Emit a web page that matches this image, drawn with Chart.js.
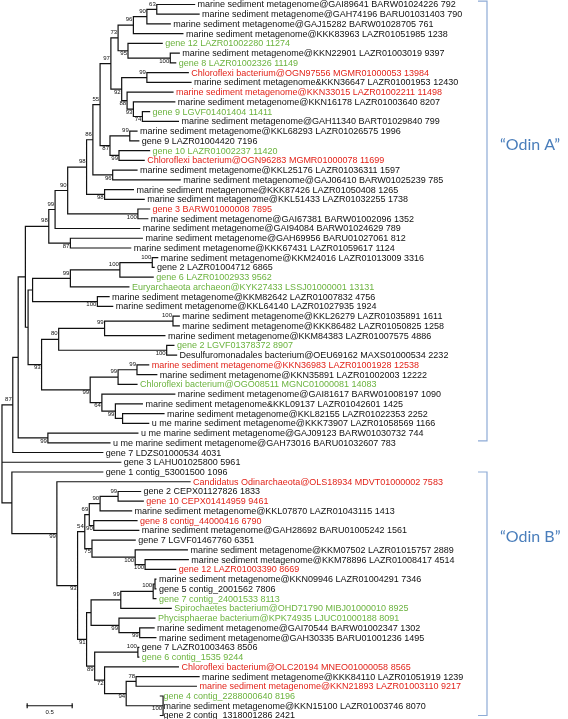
<!DOCTYPE html>
<html>
<head>
<meta charset="utf-8">
<script src="https://cdn.jsdelivr.net/npm/chart.js@4.4.1/dist/chart.umd.min.js"></script>
<style>
  html, body { margin: 0; padding: 0; background: #fff; }
  #wrap { position: relative; width: 568px; height: 719px; }
</style>
</head>
<body>
<div id="wrap"><canvas id="tree"></canvas></div>
<script>
// leaves, top to bottom
const leafLabels = [
  "marine sediment metagenome@GAI89641 BARW01024226 792",
  "marine sediment metagenome@GAH74196 BARU01031403 790",
  "marine sediment metagenome@GAJ15282 BARW01028705 761",
  "marine sediment metagenome@KKK83963 LAZR01051985 1238",
  "gene 12 LAZR01002280 11274",
  "marine sediment metagenome@KKN22901 LAZR01003019 9397",
  "gene 8 LAZR01002326 11149",
  "Chloroflexi bacterium@OGN97556 MGMR01000053 13984",
  "marine sediment metagenome&KKN36647 LAZR01001953 12430",
  "marine sediment metagenome@KKN33015 LAZR01002211 11498",
  "marine sediment metagenome@KKN16178 LAZR01003640 8207",
  "gene 9 LGVF01401404 11411",
  "marine sediment metagenome@GAH11340 BART01029840 799",
  "marine sediment metagenome@KKL68293 LAZR01026575 1996",
  "gene 9 LAZR01004420 7196",
  "gene 10 LAZR01002237 11420",
  "Chloroflexi bacterium@OGN96283 MGMR01000078 11699",
  "marine sediment metagenome@KKL25176 LAZR01036311 1597",
  "marine sediment metagenome@GAJ06410 BARW01025239 785",
  "marine sediment metagenome@KKK87426 LAZR01050408 1265",
  "marine sediment metagenome@KKL51433 LAZR01032255 1738",
  "gene 3 BARW01000008 7895",
  "marine sediment metagenome@GAI67381 BARW01002096 1352",
  "marine sediment metagenome@GAI94084 BARW01024629 789",
  "marine sediment metagenome@GAH69956 BARU01027061 812",
  "marine sediment metagenome@KKK67431 LAZR01059617 1124",
  "marine sediment metagenome@KKM24016 LAZR01013009 3316",
  "gene 2 LAZR01004712 6865",
  "gene 6 LAZR01002933 9562",
  "Euryarchaeota archaeon@KYK27433 LSSJ01000001 13131",
  "marine sediment metagenome@KKM82642 LAZR01007832 4756",
  "marine sediment metagenome@KKL64140 LAZR01027935 1924",
  "marine sediment metagenome@KKL26279 LAZR01035891 1611",
  "marine sediment metagenome@KKK86482 LAZR01050825 1258",
  "marine sediment metagenome@KKM84383 LAZR01007575 4886",
  "gene 2 LGVF01378372 8907",
  "Desulfuromonadales bacterium@OEU69162 MAXS01000534 2232",
  "marine sediment metagenome@KKN36983 LAZR01001928 12538",
  "marine sediment metagenome@KKN35891 LAZR01002003 12222",
  "Chloroflexi bacterium@OGO08511 MGNC01000081 14083",
  "marine sediment metagenome@GAI81617 BARW01008197 1090",
  "marine sediment metagenome&KKL09137 LAZR01042601 1425",
  "marine sediment metagenome@KKL82155 LAZR01022353 2252",
  "u me marine sediment metagenome@KKK73907 LAZR01058569 1166",
  "u me marine sediment metagenome@GAJ09123 BARW01030732 744",
  "u me marine sediment metagenome@GAH73016 BARU01032607 783",
  "gene 7 LDZS01000534 4031",
  "gene 3 LAHU01025800 5961",
  "gene 1 contig_53001500 1096",
  "Candidatus Odinarchaeota@OLS18934 MDVT01000002 7583",
  "gene 2 CEPX01127826 1833",
  "gene 10 CEPX01414959 9461",
  "marine sediment metagenome@KKL07870 LAZR01043115 1413",
  "gene 8 contig_44000416 6790",
  "marine sediment metagenome@GAH28692 BARU01005242 1561",
  "gene 7 LGVF01467760 6351",
  "marine sediment metagenome@KKM07502 LAZR01015757 2889",
  "marine sediment metagenome@KKM78896 LAZR01008417 4514",
  "gene 12 LAZR01003390 8669",
  "marine sediment metagenome@KKN09946 LAZR01004291 7346",
  "gene 5 contig_2001562 7806",
  "gene 7 contig_24001533 8113",
  "Spirochaetes bacterium@OHD71790 MIBJ01000010 8925",
  "Phycisphaerae bacterium@KPK74935 LJUC01000188 8091",
  "marine sediment metagenome@GAI70544 BARW01002347 1302",
  "marine sediment metagenome@GAH30335 BARU01001236 1495",
  "gene 7 LAZR01003463 8506",
  "gene 6 contig_1535 9244",
  "Chloroflexi bacterium@OLC20194 MNEO01000058 8565",
  "marine sediment metagenome@KKK84110 LAZR01051919 1239",
  "marine sediment metagenome@KKN21893 LAZR01003110 9217",
  "gene 4 contig_2288000640 8196",
  "marine sediment metagenome@KKN15100 LAZR01003746 8070",
  "gene 2 contig_1318001286 2421"
];

// k = black, g = green, r = red
const leafColor = [
  "k","k","k","k","g","k","g","r","k","r",
  "k","g","k","k","k","g","r","k","k","k",
  "k","r","k","k","k","k","k","k","g","g",
  "k","k","k","k","k","g","k","r","k","g",
  "k","k","k","k","k","k","k","k","k","r",
  "k","r","k","r","k","k","k","k","r","k",
  "k","g","g","g","k","k","k","g","r","k",
  "r","g","k","k"
];

// distance from root to each tip (substitutions per site)
const leafDepth = [
  2.14, 2.19, 1.87, 2.01, 1.78, 1.97, 1.93, 2.07, 2.10, 1.90,
  1.92, 1.64, 1.96, 1.50, 1.52, 1.64, 1.58, 1.50, 1.98, 1.46,
  1.58, 1.64, 1.62, 1.53, 1.56, 1.43, 1.73, 1.69, 1.68, 1.41,
  1.19, 1.23, 1.97, 1.97, 1.81, 1.91, 1.94, 1.63, 1.72, 1.50,
  1.92, 1.56, 1.80, 1.63, 1.51, 1.20, 1.12, 1.32, 1.12, 2.09,
  1.54, 1.57, 1.44, 1.50, 1.52, 1.48, 2.06, 2.07, 1.93, 1.71,
  1.71, 1.71, 1.88, 1.70, 1.69, 1.71, 1.52, 1.52, 1.96, 2.19,
  2.16, 1.76, 1.76, 1.76
];

// internal nodes, children listed before parents ("nX" = node X, number = leaf)
const nodeKids = [
  [0, 1], ["n0", 2], ["n1", 3], [5, 6], [4, "n3"], ["n2", "n4"], [7, 8], [11, 12], [10, "n7"], [9, "n8"],
  ["n6", "n9"], ["n5", "n10"], [13, 14], [15, 16], ["n12", "n13"], ["n11", "n14"], [17, 18], ["n15", "n16"], [19, 20], ["n17", "n18"],
  [21, 22], ["n19", "n20"], ["n21", 23], [24, 25], ["n22", "n23"], [26, 27], ["n25", 28], ["n26", 29], [30, 31], ["n27", "n28"],
  [32, 33], ["n30", 34], [35, 36], ["n31", "n32"], [37, 38], ["n34", 39], [42, 43], [41, "n36"], [40, "n37"], ["n35", "n38"],
  ["n33", "n39"], ["n29", "n40"], ["n24", "n41"], [44, 45], ["n42", "n43"], ["n44", 46],
  [50, 51], ["n46", 52], [53, 54], ["n47", "n48"], [57, 58], [56, "n50"], [55, "n51"], ["n49", "n52"], [59, 60], ["n54", 61],
  ["n55", 62], [64, 65], [63, "n57"], ["n56", "n58"], [66, 67], [69, 70], [71, 72, 73], ["n61", "n62"], [68, "n63"], ["n60", "n64"],
  ["n59", "n65"], ["n53", "n66"], [49, "n67"], [48, "n68"], ["n45", 47, "n69"]
];

const nodeDepth = [
  1.72, 1.61, 1.46, 1.87, 1.40, 1.29, 1.61, 1.56, 1.46, 1.39,
  1.33, 1.21, 1.42, 1.30, 1.20, 1.09, 1.23, 1.01, 1.14, 0.94,
  1.51, 0.73, 0.59, 0.76, 0.52, 1.67, 1.31, 0.76, 1.06, 0.34,
  1.90, 1.14, 1.83, 0.63, 1.50, 1.29, 1.34, 1.26, 1.11, 0.98,
  0.44, 0.29, 0.26, 0.51, 0.18, 0.12,
  1.29, 1.09, 1.02, 0.97, 1.59, 1.48, 1.00, 0.92, 1.70, 1.68,
  1.32, 1.53, 1.30, 0.99, 1.51, 1.49, 1.79, 1.38, 1.14, 1.03,
  0.94, 0.84, 0.61, 0.11, 0.00
];

// bootstrap support (null = not shown)
const nodeSupport = [
  63, 90, 96, 100, 95, 73, 99, 74, 93, 88,
  92, 97, 99, 99, 87, 55, 96, 86, 98, 98,
  100, 90, 99, 87, 98, 100, 100, 99, 100, null,
  100, 99, 100, 80, 99, 99, null, 99, 64, 99,
  93, null, null, 99, null, 87,
  99, 90, 90, 69, 100, 100, 75, 54, null, 100,
  99, 99, 99, null, 100, 78, 100, 94, 72, 89,
  91, 93, 99, null, null
];

const cladeNames = ["\u201COdin A\u201D", "\u201COdin B\u201D"];
const cladeTop = [-0.35, 48.0];     // in leaf rows
const cladeBottom = [44.8, 73.0];
const cladeTextRow = [14.4, 54.7];

const scaleBarValue = 0.5;
const scaleBarStart = 0.28;
const scaleBarRow = 72.0;

const palette = { k: "#111111", g: "#6cb33f", r: "#e2231a" };

// node rows (midpoint of first and last child)
const nodeRow = [];
const rowOf = (ref) => typeof ref === "number" ? ref : nodeRow[+ref.slice(1)];
const depthOf = (ref) => typeof ref === "number" ? leafDepth[ref] : nodeDepth[+ref.slice(1)];
nodeKids.forEach((kids, i) => {
  nodeRow[i] = (rowOf(kids[0]) + rowOf(kids[kids.length - 1])) / 2;
});

// is the node drawn as the top child of its parent?
const isUpper = [];
nodeKids.forEach((kids) => {
  kids.forEach((k, j) => {
    if (typeof k === "string") isUpper[+k.slice(1)] = (j === 0);
  });
});

// branch segments, separated by gaps
const branches = [];
nodeKids.forEach((kids, i) => {
  const d = nodeDepth[i];
  branches.push({ x: d, y: rowOf(kids[0]) }, { x: d, y: rowOf(kids[kids.length - 1]) }, { x: null, y: null });
  kids.forEach((k) => {
    branches.push({ x: d, y: rowOf(k) }, { x: depthOf(k), y: rowOf(k) }, { x: null, y: null });
  });
});
branches.push({ x: scaleBarStart, y: scaleBarRow }, { x: scaleBarStart + scaleBarValue, y: scaleBarRow }, { x: null, y: null });

const treeText = {
  id: "treeText",
  afterDatasetsDraw(chart) {
    const { ctx, scales: { x, y } } = chart;
    ctx.save();

    // tip labels
    ctx.font = '9px "Liberation Sans", Arial, sans-serif';
    ctx.textBaseline = "middle";
    ctx.textAlign = "left";
    leafLabels.forEach((t, i) => {
      ctx.fillStyle = palette[leafColor[i]];
      ctx.fillText(t, x.getPixelForValue(leafDepth[i]) + 3, y.getPixelForValue(i) + 0.5);
    });

    // bootstrap values
    ctx.font = '6px "Liberation Sans", Arial, sans-serif';
    ctx.fillStyle = "#111";
    ctx.textAlign = "right";
    nodeSupport.forEach((s, i) => {
      if (s == null) return;
      const px = x.getPixelForValue(nodeDepth[i]) - 1;
      const py = y.getPixelForValue(nodeRow[i]) + (isUpper[i] ? -5.5 : 3);
      ctx.fillText(String(s), px, py);
    });

    // scale bar ticks and label
    const sx0 = x.getPixelForValue(scaleBarStart);
    const sx1 = x.getPixelForValue(scaleBarStart + scaleBarValue);
    const sy = y.getPixelForValue(scaleBarRow);
    ctx.strokeStyle = "#111";
    ctx.lineWidth = 1.2;
    ctx.beginPath();
    ctx.moveTo(sx0, sy - 2.5); ctx.lineTo(sx0, sy + 2.5);
    ctx.moveTo(sx1, sy - 2.5); ctx.lineTo(sx1, sy + 2.5);
    ctx.stroke();
    ctx.textAlign = "center";
    ctx.fillText(String(scaleBarValue), (sx0 + sx1) / 2, sy + 7);

    // clade brackets
    ctx.strokeStyle = "#8eabd6";
    ctx.lineWidth = 1.2;
    ctx.fillStyle = "#4a7ebb";
    ctx.font = '16px Lato, "Open Sans", sans-serif';
    ctx.textAlign = "left";
    cladeNames.forEach((name, i) => {
      const top = y.getPixelForValue(cladeTop[i]);
      const bot = y.getPixelForValue(cladeBottom[i]);
      ctx.beginPath();
      ctx.moveTo(478, top); ctx.lineTo(487, top); ctx.lineTo(487, bot); ctx.lineTo(478, bot);
      ctx.stroke();
      ctx.fillText(name, 500, y.getPixelForValue(cladeTextRow[i]));
    });

    ctx.restore();
  }
};

new Chart(document.getElementById("tree"), {
  type: "scatter",
  data: {
    datasets: [{
      data: branches,
      showLine: true,
      spanGaps: false,
      borderColor: "#111",
      borderWidth: 1.2,
      borderCapStyle: "square",
      pointRadius: 0,
      pointHoverRadius: 0
    }]
  },
  options: {
    responsive: true,
    maintainAspectRatio: false,
    animation: false,
    events: [],
    layout: { padding: 0 },
    plugins: { legend: { display: false }, tooltip: { enabled: false } },
    scales: {
      x: { type: "linear", display: false, min: -0.022, max: 6.289 },
      y: { type: "linear", display: false, reverse: true, min: -0.46, max: 73.36 }
    }
  },
  plugins: [treeText]
});
</script>
</body>
</html>
